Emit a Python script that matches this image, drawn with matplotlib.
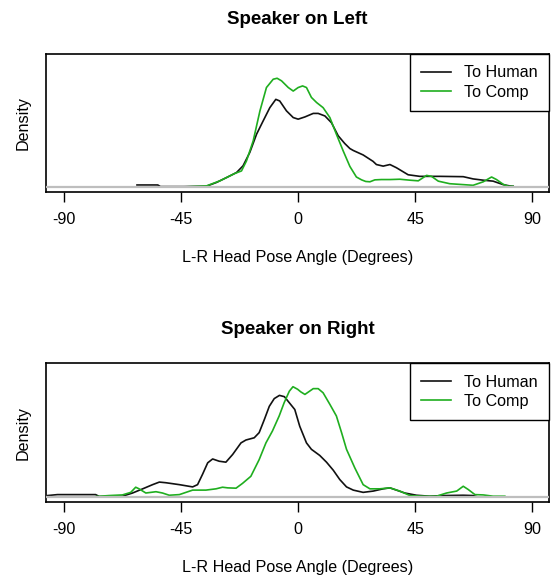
import numpy as np
import matplotlib.pyplot as plt

plt.rcParams['font.family'] = ['Liberation Sans', 'DejaVu Sans']
plt.rcParams['axes.unicode_minus'] = False

# kernel density curves (angle in degrees, density)
left_human_deg = [-62.0, -54.0, -53.0, -44.0, -35.3, -31.4, -27.6, -23.7, -21.2, -18.6,
                  -16.0, -13.5, -10.9, -8.6, -7.1, -4.5, -1.9, 0.0, 2.6, 5.8, 7.7, 10.3,
                  12.8, 15.4, 17.9, 19.9, 21.2, 25.0, 28.8, 30.1, 32.7, 35.3, 37.8, 42.3,
                  46.8, 54.5, 63.5, 67.3, 71.2, 75.0, 78.9, 81.4, 82.7]
left_human_dens = [0.0006, 0.0006, 0.0001, 0.0001, 0.0002, 0.0014, 0.0029, 0.0045, 0.0066, 0.0108,
                   0.0165, 0.0206, 0.0248, 0.0274, 0.0269, 0.0238, 0.0217, 0.0212, 0.0219, 0.0230,
                   0.0230, 0.0222, 0.0201, 0.0160, 0.0136, 0.0120, 0.0114, 0.0100, 0.0080, 0.0070,
                   0.0065, 0.0070, 0.0060, 0.0038, 0.0033, 0.0033, 0.0032, 0.0025, 0.0021, 0.0018,
                   0.0007, 0.0003, 0.0002]

left_comp_deg = [-43.8, -35.3, -30.1, -24.4, -21.8, -19.9, -17.3, -14.7, -12.2, -9.6, -8.1,
                 -6.4, -3.8, -1.9, 0.0, 1.7, 3.2, 5.1, 7.1, 9.6, 12.2, 14.7, 17.3, 19.9, 22.4,
                 24.4, 26.0, 27.6, 29.5, 32.0, 35.3, 39.1, 43.0, 46.2, 49.4, 51.3, 53.9, 58.3,
                 67.3, 71.2, 74.4, 76.3, 78.9, 80.8, 82.7]
left_comp_dens = [0.0000, 0.0003, 0.0019, 0.0042, 0.0050, 0.0081, 0.0144, 0.0238, 0.0311, 0.0337,
                  0.0340, 0.0332, 0.0311, 0.0300, 0.0311, 0.0316, 0.0311, 0.0280, 0.0264, 0.0248,
                  0.0217, 0.0165, 0.0113, 0.0064, 0.0031, 0.0022, 0.0017, 0.0016, 0.0022, 0.0023,
                  0.0023, 0.0024, 0.0021, 0.0019, 0.0036, 0.0033, 0.0018, 0.0010, 0.0005, 0.0016,
                  0.0031, 0.0023, 0.0008, 0.0002, 0.0002]

right_human_deg = [-96.4, -92.6, -77.9, -76.5, -67.6, -63.7, -59.8, -56.0, -53.4, -50.9, -45.7,
                   -40.6, -38.7, -36.8, -34.8, -32.9, -30.4, -27.8, -25.2, -22.0, -20.1, -16.9,
                   -15.0, -13.0, -11.1, -9.2, -7.2, -5.3, -3.4, -1.3, 0.6, 3.2, 5.1, 8.3, 10.9,
                   13.5, 16.0, 18.6, 21.2, 25.0, 28.9, 32.7, 35.3, 37.8, 41.0, 45.5, 50.6, 55.8,
                   63.5, 67.3, 68.6]
right_human_dens = [0.0004, 0.0007, 0.0007, 0.0001, 0.0002, 0.0012, 0.0025, 0.0038, 0.0046, 0.0044,
                    0.0038, 0.0031, 0.0038, 0.0070, 0.0106, 0.0118, 0.0111, 0.0108, 0.0132, 0.0168,
                    0.0177, 0.0184, 0.0200, 0.0241, 0.0282, 0.0306, 0.0316, 0.0312, 0.0293, 0.0272,
                    0.0220, 0.0168, 0.0148, 0.0129, 0.0108, 0.0083, 0.0054, 0.0031, 0.0021, 0.0014,
                    0.0018, 0.0025, 0.0028, 0.0021, 0.0012, 0.0005, 0.0002, 0.0004, 0.0005, 0.0004,
                    0.0001]

right_comp_deg = [-77.9, -72.8, -67.6, -64.4, -62.5, -61.2, -58.6, -54.7, -52.2, -49.6, -45.7,
                  -40.6, -35.5, -31.6, -29.1, -27.1, -23.9, -21.4, -18.2, -15.0, -12.4, -9.9,
                  -7.3, -5.4, -3.4, -2.0, -0.2, 1.0, 2.6, 5.8, 7.7, 9.6, 12.2, 14.7, 16.7, 18.6,
                  21.8, 25.0, 27.6, 31.4, 35.3, 39.1, 43.0, 48.1, 53.2, 57.1, 61.0, 63.5, 65.4,
                  68.0, 71.2, 75.0, 79.5]
right_comp_dens = [0.0001, 0.0004, 0.0006, 0.0014, 0.0030, 0.0025, 0.0012, 0.0016, 0.0012, 0.0005,
                   0.0007, 0.0021, 0.0021, 0.0025, 0.0030, 0.0028, 0.0027, 0.0042, 0.0064, 0.0116,
                   0.0168, 0.0205, 0.0252, 0.0293, 0.0329, 0.0343, 0.0335, 0.0327, 0.0319, 0.0337,
                   0.0337, 0.0324, 0.0288, 0.0252, 0.0200, 0.0148, 0.0090, 0.0038, 0.0025, 0.0025,
                   0.0028, 0.0018, 0.0004, 0.0002, 0.0002, 0.0012, 0.0018, 0.0033, 0.0023, 0.0007,
                   0.0006, 0.0002, 0.0002]

titles = ['Speaker on Left', 'Speaker on Right']
series_labels = ['To Human', 'To Comp']
xticks = [-90, -45, 0, 45, 90]

panels = [
    (left_human_deg, left_human_dens, left_comp_deg, left_comp_dens),
    (right_human_deg, right_human_dens, right_comp_deg, right_comp_dens),
]

FS = 11.6
GREEN = '#1fae1f'

fig = plt.figure(figsize=(5.51, 5.78), dpi=100)
rects = [[0.0835, 0.6678, 0.9129, 0.2388], [0.0835, 0.1315, 0.9129, 0.2400]]

for rect, title, (hx, hy, cx, cy) in zip(rects, titles, panels):
    ax = fig.add_axes(rect)
    ax.plot(hx, hy, color='#111111', lw=1.2, label=series_labels[0])
    ax.plot(cx, cy, color=GREEN, lw=1.2, label=series_labels[1])
    ax.axhline(0, color='#bebebe', lw=1.6, zorder=3)

    ax.set_xlim(-97, 96.5)
    ax.set_ylim(-0.0016, 0.0416)
    ax.set_xticks(xticks)
    ax.set_xticklabels([str(t) for t in xticks])
    ax.set_yticks([])
    ax.tick_params(axis='x', length=7.2, width=1.0, pad=7.0, labelsize=FS)
    for s in ax.spines.values():
        s.set_linewidth(1.2)

    ax.annotate(title, xy=(0.5, 1), xycoords='axes fraction', xytext=(0, 24.5),
                textcoords='offset points', ha='center', va='center',
                fontsize=13.5, fontweight='bold')
    ax.annotate('L-R Head Pose Angle (Degrees)', xy=(0.5, 0), xycoords='axes fraction',
                xytext=(0, -47.5), textcoords='offset points', ha='center', va='center',
                fontsize=FS)
    ax.annotate('Density', xy=(0, 0.5), xycoords='axes fraction', xytext=(-16.8, 0),
                textcoords='offset points', ha='center', va='center', rotation=90,
                fontsize=FS)

    leg = ax.legend(loc='upper right', fontsize=FS, frameon=True, fancybox=False,
                    framealpha=1, edgecolor='black', borderaxespad=0, borderpad=0.7,
                    handlelength=1.85, handletextpad=0.8, labelspacing=0.27)
    leg.get_frame().set_linewidth(1.0)

fig.savefig('out.png', dpi=100)
